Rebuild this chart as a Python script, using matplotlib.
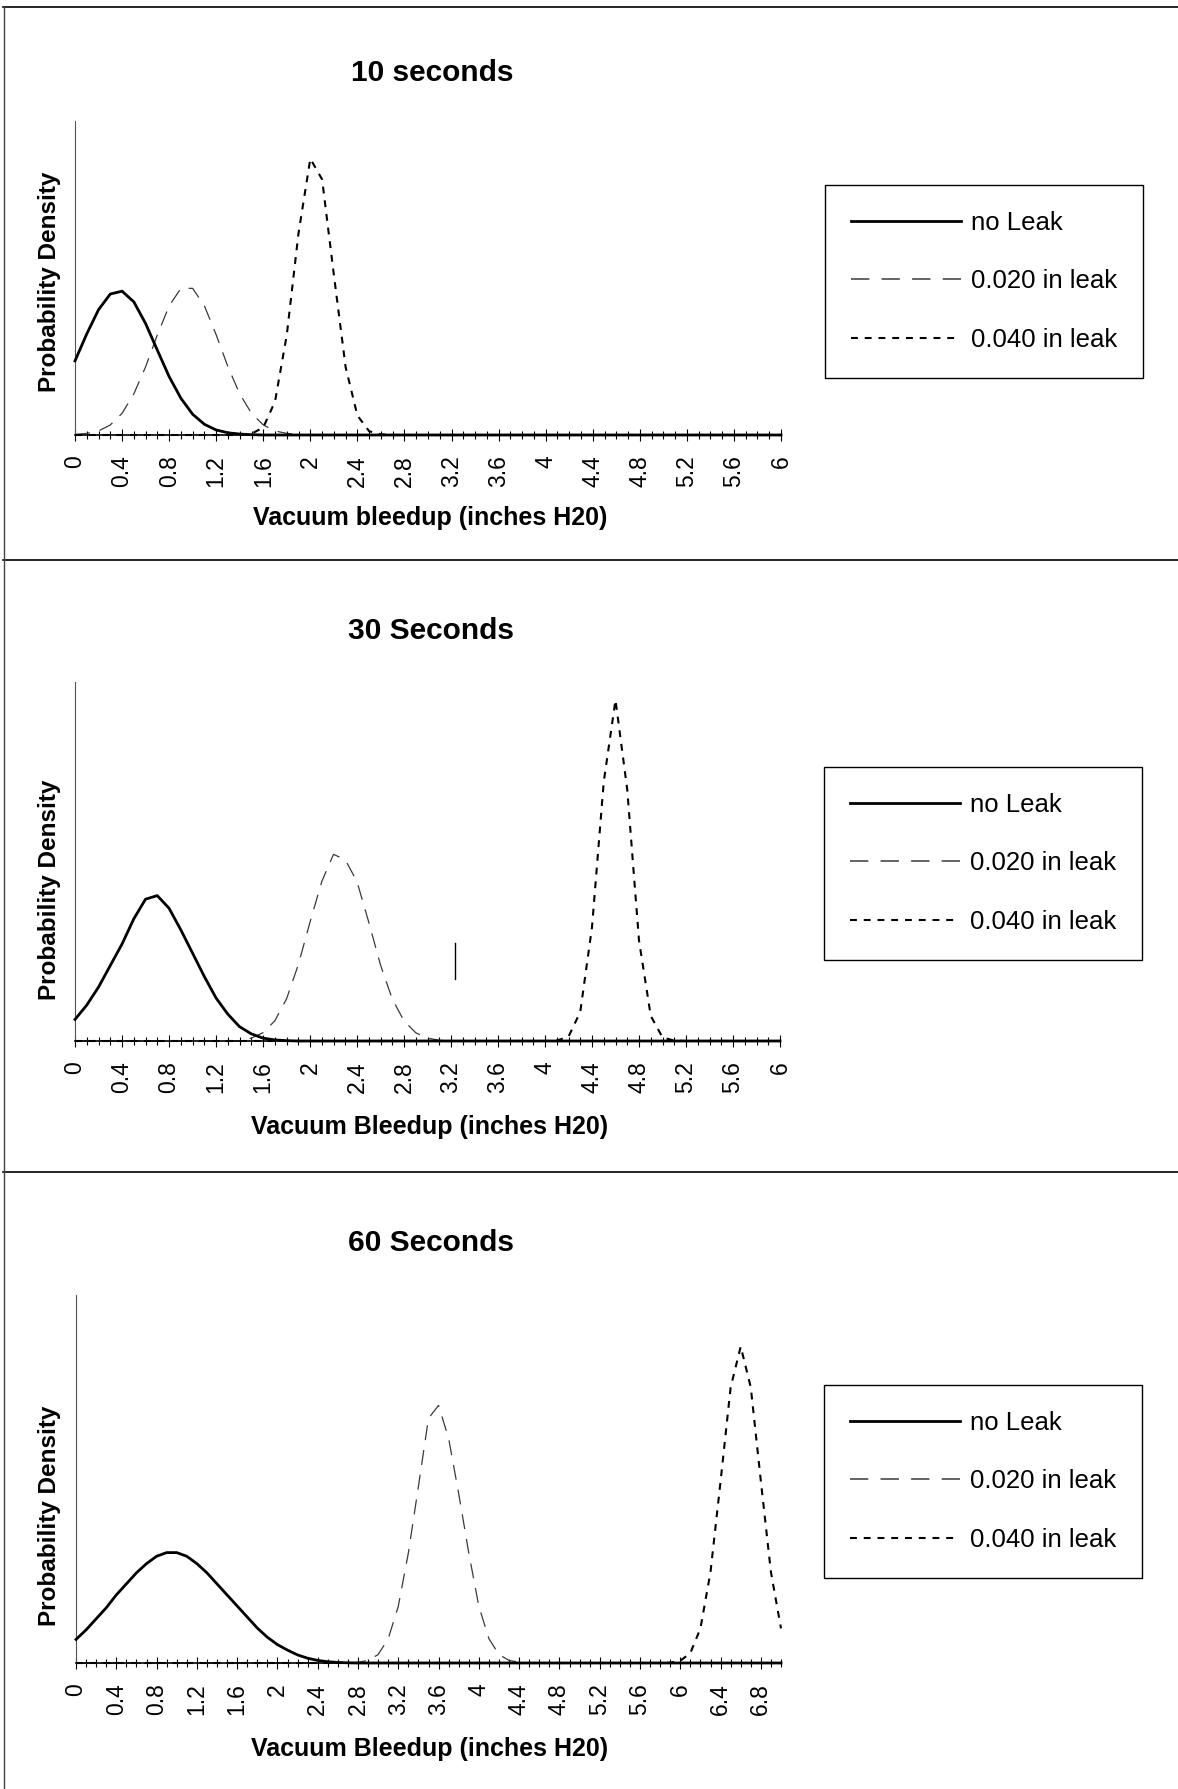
import numpy as np
import matplotlib
matplotlib.use("Agg")
import matplotlib.pyplot as plt
from matplotlib.lines import Line2D

W, H = 1178, 1789

# ---------- data (density, % of plot height) -------------------------------
STEP = 0.1
N_CATS = [61, 61, 71]          # categories 0.0 .. 6.0 / 6.0 / 7.0
TITLES = ["10 seconds", "30 Seconds", "60 Seconds"]
XLABELS = ["Vacuum bleedup (inches H20)",
           "Vacuum Bleedup (inches H20)",
           "Vacuum Bleedup (inches H20)"]
SERIES_NAMES = ["no Leak", "0.020 in leak", "0.040 in leak"]

# (start category value, values) - zero elsewhere
NO_LEAK_10 = (0.0, [23.6, 32.2, 39.9, 44.9, 45.8, 42.4, 35.5, 27.0, 18.6, 11.7,
                    6.6, 3.4, 1.6, 0.7, 0.3, 0.1])
LEAK20_10 = (0.0, [0.2, 0.5, 1.3, 3.2, 6.9, 13.1, 21.7, 31.9, 41.1, 46.7, 46.7,
                   41.1, 31.9, 21.7, 13.1, 6.9, 3.2, 1.3, 0.5, 0.2])
LEAK40_10 = (1.5, [0.4, 2.4, 10.7, 31.9, 64.4, 88.0, 81.4, 51.0, 21.6, 6.2,
                   1.2, 0.2])

NO_LEAK_30 = (0.0, [6.0, 10.0, 15.0, 21.0, 27.0, 34.0, 39.5, 40.5, 37.0, 31.0,
                    24.5, 18.0, 12.0, 7.5, 4.0, 2.0, 0.8, 0.3, 0.1])
LEAK20_30 = (1.5, [0.8, 2.3, 5.6, 11.7, 21.2, 33.1, 44.4, 52.0, 50.5, 44.4,
                   33.1, 21.2, 11.7, 5.6, 2.3, 0.8, 0.2])
LEAK40_30 = (4.1, [0.1, 1.2, 8.1, 31.7, 72.2, 95.0, 70.0, 28.0, 7.0, 1.0, 0.1])

NO_LEAK_60 = (0.0, [6.4, 9.0, 12.0, 15.0, 18.5, 21.5, 24.5, 27.0, 29.0, 30.0,
                    30.0, 29.0, 27.0, 24.5, 21.5, 18.5, 15.5, 12.5, 9.5, 7.0,
                    5.0, 3.5, 2.2, 1.3, 0.7, 0.35, 0.15, 0.05])
LEAK20_60 = (2.8, [0.2, 0.7, 2.3, 6.6, 15.4, 29.9, 48.0, 66.5, 70.0, 61.0,
                   46.0, 29.9, 15.4, 6.6, 2.3, 0.7, 0.2])
LEAK40_60 = (5.9, [0.1, 0.6, 2.7, 9.4, 24.7, 49.4, 74.9, 86.0, 74.9, 49.4,
                   24.7, 9.4])

PANEL_DATA = [
    (NO_LEAK_10, LEAK20_10, LEAK40_10),
    (NO_LEAK_30, LEAK20_30, LEAK40_30),
    (NO_LEAK_60, LEAK20_60, LEAK40_60),
]

# ---------- layout (pixels in the 1178x1789 page) ---------------------------
# plot area: left, right, top, bottom
AXES_PX = [(75, 781, 121, 435), (75, 780, 682, 1041), (76, 781, 1295, 1663)]
TITLE_PX = [(432, 73), (431, 631), (431, 1243)]
XLABEL_PX = [(430, 518), (430, 1127), (430, 1749)]
YLABEL_PX = [(50, 282), (50, 890), (50, 1516)]
LEGEND_PX = [(825, 185), (824, 767), (824, 1385)]
SEPARATORS_Y = [7, 560, 1172]

plt.rcParams["font.family"] = ["Liberation Sans", "DejaVu Sans"]


def fx(x):
    return x / W


def fy(y):
    return 1 - y / H


def expand(seg, n):
    start, vals = seg
    out = np.zeros(n)
    i = int(round(start / STEP))
    out[i:i + len(vals)] = vals
    return out


STYLES = [
    dict(color="black", lw=2.0, ls="-"),
    dict(color="#3a3a3a", lw=0.9, ls=(0, (12, 8))),
    dict(color="black", lw=1.5, ls=(0, (3.3, 3.3))),
]

fig = plt.figure(figsize=(W / 100, H / 100), dpi=100)

for p in range(3):
    l, r, t, b = AXES_PX[p]
    ax = fig.add_axes([fx(l), fy(b), (r - l) / W, (b - t) / H])
    n = N_CATS[p]
    cats = np.round(np.arange(n) * STEP, 1)

    # dashed / dotted first, solid on top (it also covers the baseline)
    for k in [1, 2, 0]:
        ys = expand(PANEL_DATA[p][k], n)
        ax.plot(cats, ys, color=STYLES[k]["color"], lw=STYLES[k]["lw"],
                ls=STYLES[k]["ls"], zorder=3 if k == 0 else 2, clip_on=False)
    handles = [Line2D([], [], color=STYLES[k]["color"],
                      lw=STYLES[k]["lw"] + (0.2 if k == 1 else 0),
                      ls=STYLES[k]["ls"]) for k in range(3)]

    ax.set_xlim(0, cats[-1])
    ax.set_ylim(0, 100)
    ax.set_xticks(cats[::4])
    ax.set_xticklabels([f"{v:g}" for v in cats[::4]], rotation=90,
                       fontsize=16.5)
    ax.set_xticks(cats, minor=True)
    ax.tick_params(axis="x", which="both", direction="inout", width=0.8,
                   color="black", pad=10)
    ax.tick_params(axis="x", which="major", length=9)
    ax.tick_params(axis="x", which="minor", length=6)
    ax.set_yticks([])
    for s in ("top", "right"):
        ax.spines[s].set_visible(False)
    ax.spines["left"].set_color("#555555")
    ax.spines["left"].set_linewidth(0.8)
    ax.spines["bottom"].set_color("black")
    ax.spines["bottom"].set_linewidth(1.2)
    ax.patch.set_alpha(0)

    fig.text(fx(TITLE_PX[p][0]), fy(TITLE_PX[p][1]), TITLES[p],
             ha="center", va="center", fontsize=21.5, fontweight="bold")
    fig.text(fx(XLABEL_PX[p][0]), fy(XLABEL_PX[p][1]), XLABELS[p],
             ha="center", va="center", fontsize=18, fontweight="bold")
    fig.text(fx(YLABEL_PX[p][0]), fy(YLABEL_PX[p][1]), "Probability Density",
             ha="center", va="center", rotation=90, fontsize=17.5,
             fontweight="bold")

    lx, ly = LEGEND_PX[p]
    leg = ax.legend(handles, SERIES_NAMES, loc="upper left",
                    bbox_to_anchor=(fx(lx), fy(ly)),
                    bbox_transform=fig.transFigure, frameon=True,
                    fancybox=False, edgecolor="black", framealpha=1,
                    borderpad=1.0, handlelength=4.3, handletextpad=0.4,
                    labelspacing=1.35, borderaxespad=0, fontsize=18.5)
    leg.get_frame().set_linewidth(1.0)

# page frame lines of the scanned document
for y in SEPARATORS_Y:
    fig.add_artist(Line2D([fx(3), 1], [fy(y), fy(y)], color="black", lw=1.2))
fig.add_artist(Line2D([fx(4), fx(4)], [fy(SEPARATORS_Y[0]), 0],
                      color="#444444", lw=1.0))
# stray pen mark in the middle panel of the scan
fig.add_artist(Line2D([fx(455), fx(455)], [fy(943), fy(979)],
                      color="black", lw=1.0))

fig.savefig("out.png", dpi=100)
